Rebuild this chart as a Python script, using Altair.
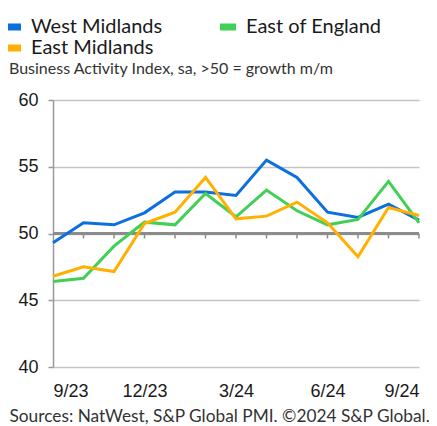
import altair as alt
import pandas as pd

months = ["9/23", "10/23", "11/23", "12/23", "1/24", "2/24", "3/24",
          "4/24", "5/24", "6/24", "7/24", "8/24", "9/24"]
west_midlands = [49.3, 50.8, 50.65, 51.55, 53.1, 53.1, 52.85, 55.5, 54.2, 51.6, 51.2, 52.2, 51.0]
east_of_england = [46.4, 46.65, 49.05, 50.85, 50.65, 53.0, 51.25, 53.25, 51.7, 50.65, 51.05, 53.9, 50.8]
east_midlands = [46.8, 47.5, 47.15, 50.75, 51.6, 54.2, 51.1, 51.3, 52.35, 50.8, 48.25, 51.95, 51.35]

series_names = ["West Midlands", "East of England", "East Midlands"]
series_colors = ["#0b6fde", "#42cf55", "#ffb000"]
series_values = [west_midlands, east_of_england, east_midlands]
label_positions = [0, 3, 6, 9, 12]
subtitle = "Business Activity Index, sa, >50 = growth m/m"
footer = "Sources: NatWest, S&P Global PMI. \u00a92024 S&P Global."

rows = []
for name, vals in zip(series_names, series_values):
    for i, v in enumerate(vals):
        rows.append({"i": i, "month": months[i], "series": name, "value": v})
df = pd.DataFrame(rows)
ticks_df = pd.DataFrame({"i": list(range(1, len(months)))})
text_df = pd.DataFrame({"t": [subtitle]})

label_expr = "[" + ",".join("'" + m + "'" for m in months) + "][datum.value]"

x_scale = alt.Scale(domain=[0, len(months) - 1], nice=False, zero=False)
y_scale = alt.Scale(domain=[40, 60], nice=False, zero=False)

x_enc = alt.X("i:Q", scale=x_scale, axis=alt.Axis(
    values=label_positions, labelExpr=label_expr, grid=False, ticks=False,
    domain=False, labelFont="Liberation Sans", labelFontSize=18,
    labelColor="#1a1a1a", labelPadding=15,
    title=footer,
    titleX=-44, titleY=54, titleAlign="left", titleAnchor="start",
    titleBaseline="alphabetic", titleFont="Lato", titleFontSize=17.3,
    titleFontWeight="normal", titleColor="#333333"))
y_enc = alt.Y("value:Q", scale=y_scale, axis=alt.Axis(
    values=[40, 45, 50, 55, 60], grid=True, gridColor="#c4c4c4", gridWidth=1.5,
    domainColor="#999999", domainWidth=1.5, tickColor="#999999", tickSize=5,
    tickWidth=1.5, labelFont="Liberation Sans", labelFontSize=18,
    labelColor="#1a1a1a", labelPadding=10, title=None))


def legend_for(legend_y, columns):
    return alt.Legend(
        title=None, orient="none", legendX=-50, legendY=legend_y,
        direction="horizontal", columns=columns, columnPadding=43,
        symbolType="M-1.6,0 L1.6,0", symbolSize=100, symbolStrokeWidth=7,
        labelFont="Lato", labelFontSize=20, labelColor="#1a1a1a", labelOffset=8)


# invisible base layer that carries the axes
base = alt.Chart(df).mark_line(strokeOpacity=0).encode(
    x=x_enc, y=y_enc, detail="series:N", order="i:Q"
)

# first legend row: West Midlands, East of England
top_names = series_names[:2]
lines_top = alt.Chart(df).transform_filter(
    alt.FieldOneOfPredicate(field="series", oneOf=top_names)
).mark_line(strokeWidth=3).encode(
    x=alt.X("i:Q", scale=x_scale), y=alt.Y("value:Q", scale=y_scale),
    color=alt.Color("series:N", scale=alt.Scale(domain=top_names, range=series_colors[:2]),
                    legend=legend_for(-83, 2)),
    order="i:Q",
)

# second legend row: East Midlands
bottom_names = series_names[2:]
lines_bottom = alt.Chart(df).transform_filter(
    alt.FieldOneOfPredicate(field="series", oneOf=bottom_names)
).mark_line(strokeWidth=3).encode(
    x=alt.X("i:Q", scale=x_scale), y=alt.Y("value:Q", scale=y_scale),
    color=alt.Color("series:N", scale=alt.Scale(domain=bottom_names, range=series_colors[2:]),
                    legend=legend_for(-62, 1)),
    order="i:Q",
)

axis_rule = alt.Chart(df).mark_rule(color="#8c8c8c", strokeWidth=2).encode(
    y=alt.datum(50, scale=y_scale)
)

month_ticks = alt.Chart(ticks_df).mark_rule(color="#8c8c8c", strokeWidth=1.5, y2Offset=5).encode(
    x=alt.X("i:Q", scale=x_scale),
    y=alt.datum(50),
    y2=alt.datum(50),
)

sub = alt.Chart(text_df).mark_text(
    align="left", baseline="alphabetic", font="Lato", fontSize=16, color="#333333"
).encode(x=alt.value(-44), y=alt.value(-26), text="t:N")

chart = alt.layer(base, axis_rule, month_ticks, lines_top, lines_bottom, sub).resolve_scale(
    color="independent"
).properties(
    width=366, height=267,
    autosize=alt.AutoSizeParams(type="none"),
    padding={"left": 45, "top": 92, "right": 10, "bottom": 58},
).configure_view(stroke=None)

chart.save("out.html", embed_options={"renderer": "svg", "actions": False})
